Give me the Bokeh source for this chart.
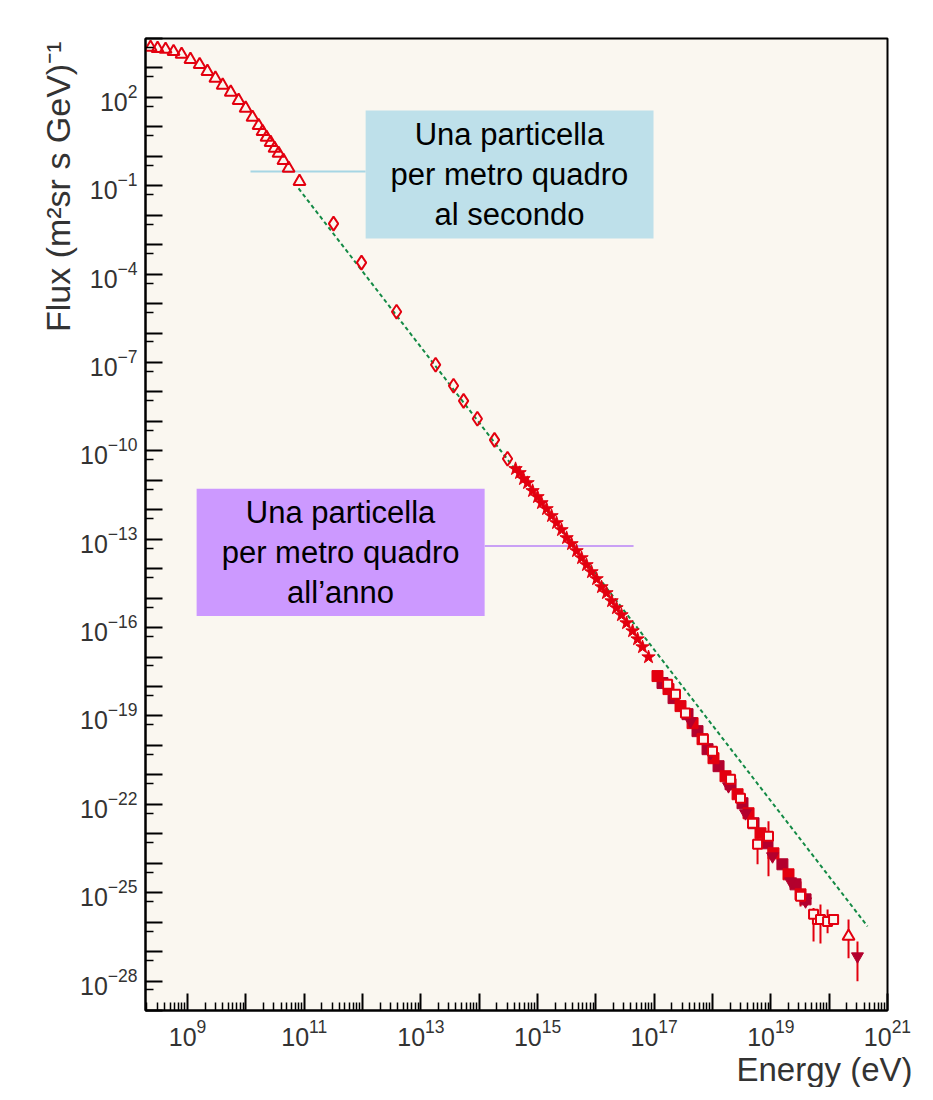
import numpy as np
from bokeh.plotting import figure
from bokeh.models import FixedTicker, BoxAnnotation, Label, Range1d, Title
from bokeh.embed import file_html
from bokeh.resources import INLINE

# ---------------- data (energy in eV, flux in m^-2 sr^-1 s^-1 GeV^-1) ----------------
tri_E = [2.32e8, 3.06e8, 4.2e8, 5.75e8, 7.9e8, 1.12e9, 1.61e9, 2.19e9, 3.0e9, 4.0e9,
         5.5e9, 7.5e9, 9.9e9, 1.3e10, 1.65e10, 1.93e10, 2.26e10, 2.65e10, 3.1e10,
         3.63e10, 4.4e10, 5.4e10, 8.3e10]
tri_F = [5.0e3, 4.6e3, 4.3e3, 3.6e3, 2.9e3, 1.95e3, 1.3e3, 7.6e2, 4.5e2, 2.6e2,
         1.5e2, 79, 43, 21, 11, 6.9, 4.4, 2.95, 1.86,
         1.26, 0.72, 0.39, 0.14]

dia_E = [3.18e11, 9.6e11, 3.83e12, 1.79e13, 3.63e13, 5.4e13, 9.3e13, 1.83e14, 3.06e14]
dia_F = [5.2e-3, 2.47e-4, 5.3e-6, 8.4e-8, 1.63e-8, 5.0e-9, 1.23e-9, 2.37e-10, 5.4e-11]

star_E = [4.20e14, 4.92e14, 5.75e14, 6.75e14, 8.22e14, 1.0e15, 1.17e15, 1.43e15, 1.74e15,
          2.12e15, 2.58e15, 3.15e15, 3.83e15, 4.67e15, 5.69e15, 6.92e15, 8.43e15, 1.03e16,
          1.25e16, 1.52e16, 1.86e16, 2.26e16, 2.75e16, 3.36e16, 4.26e16, 5.19e16, 6.31e16, 8.0e16]
star_F = [2.45e-11, 1.79e-11, 1.12e-11, 8.18e-12, 4.39e-12, 2.74e-12, 1.71e-12, 1.07e-12, 6.19e-13,
          3.58e-13, 2.07e-13, 1.11e-13, 6.92e-14, 4.0e-14, 2.31e-14, 1.34e-14, 7.73e-15, 4.48e-15,
          2.39e-15, 1.50e-15, 8.0e-16, 4.62e-16, 2.67e-16, 1.43e-16, 7.64e-17, 4.08e-17, 2.19e-17, 1.0e-17]

sqf_E = [1.14e17, 1.76e17, 2.83e17, 4.55e17, 6.75e17, 1.04e18, 1.67e18, 2.69e18, 4.15e18,
         6.65e18, 1.11e19, 2.01e19, 3.23e19]
sqf_F = [2.26e-18, 8.17e-19, 2.16e-19, 5.7e-20, 1.63e-20, 3.68e-21, 9.0e-22, 2.2e-22, 4.98e-23,
         1.04e-23, 2.17e-24, 4.2e-25, 8.77e-26]

dsq_E = [1.39e17, 2.15e17, 3.73e17, 5.53e17, 8.22e17, 1.27e18, 2.04e18, 3.27e18, 5.05e18,
         8.77e18, 1.58e19, 2.65e19, 3.94e19]
dsq_F = [1.31e-18, 4.04e-19, 1.15e-19, 3.05e-20, 7.45e-21, 1.97e-21, 4.81e-22, 1.09e-22, 2.28e-23,
         4.75e-24, 9.2e-25, 1.92e-25, 5.94e-26]

sqo_E = [1.70e17, 2.32e17, 3.44e17, 7.0e17, 1.0e18, 2.04e18, 3.02e18, 4.85e18, 5.92e18,
         9.12e18, 3.23e19, 6.3e19, 1.19e20]
sqo_F = [1.20e-18, 5.5e-19, 1.25e-19, 1.63e-20, 6.37e-21, 7.1e-22, 1.61e-22, 2.28e-23, 4.4e-24,
         8.2e-24, 7.5e-26, 1.24e-26, 1.24e-26]

dtri_E = [4.2e17, 9.25e17, 1.88e18, 3.68e18, 1.07e19, 2.18e19, 3.94e19, 3.06e20]
dtri_F = [6.6e-20, 5.5e-21, 4.12e-22, 4.98e-23, 1.72e-24, 2.43e-25, 5.08e-26, 6.9e-28]

uhe_E = [5.4e19, 7.1e19, 9.4e19, 1.19e20]
uhe_F = [1.84e-26, 1.24e-26, 1.06e-26, 1.24e-26]

otri_E = [2.15e20]
otri_F = [3.28e-27]

err_E = [5.92e18, 9.12e18, 3.23e19, 5.4e19, 7.1e19, 9.4e19, 2.15e20, 3.06e20]
err_lo = [9.2e-25, 3.6e-25, 3.4e-26, 2.2e-27, 1.9e-27, 4.2e-27, 5.9e-28, 9.8e-29]
err_hi = [7.0e-24, 2.66e-23, 2.4e-25, 3.0e-26, 4.0e-26, 2.7e-26, 1.24e-26, 2.2e-27]

fit_E = [8.0e10, 4.55e20]
fit_F = [8.1e-2, 7.2e-27]

x_label_exps = [9, 11, 13, 15, 17, 19, 21]
y_label_exps = [2, -1, -4, -7, -10, -13, -16, -19, -22, -25, -28]

# ---------------- styles / annotation placement ----------------
RED = "#e3000f"
DARK = "#b3002d"
FONT = "Liberation Sans"

p = figure(frame_width=742, frame_height=972, x_axis_type="log", y_axis_type="log",
           x_range=Range1d(1.9e8, 1.001e21), y_range=Range1d(1e-29, 1.001e4),
           output_backend="svg", toolbar_location=None,
           min_border_left=145, min_border_right=38, min_border_top=38, min_border_bottom=60,
           background_fill_color="#faf7f0", border_fill_color="white")
p.grid.visible = False
p.outline_line_color = "black"
p.outline_line_width = 2

x_major = [float(f"1e{k}") for k in range(9, 22)]
x_minor = [float(f"{m}e{k}") for k in range(8, 21) for m in range(2, 10) if float(f"{m}e{k}") >= 1.9e8]
y_major = [float(f"1e{k}") for k in range(-29, 5)]
y_minor = [float(f"5e{k}") for k in range(-29, 4)]

p.xaxis.ticker = FixedTicker(ticks=x_major, minor_ticks=x_minor)
p.yaxis.ticker = FixedTicker(ticks=y_major, minor_ticks=y_minor)
p.xaxis.major_label_overrides = {float(f"1e{k}"): "" for k in range(9, 22) if k not in x_label_exps}
p.yaxis.major_label_overrides = {float(f"1e{k}"): "" for k in range(-29, 5) if k not in y_label_exps}

for ax in (p.xaxis[0], p.yaxis[0]):
    ax.axis_line_width = 2
    ax.axis_line_color = "black"
    ax.major_tick_line_width = 2
    ax.minor_tick_line_width = 1.5
    ax.major_tick_in = 17
    ax.major_tick_out = 0
    ax.minor_tick_in = 8
    ax.minor_tick_out = 0
    ax.major_label_text_font = FONT
    ax.major_label_text_font_size = "25px"
    ax.major_label_text_color = "#333333"
    ax.major_label_standoff = 8

# axis titles (as side titles so they may sit outside the frame)
p.add_layout(Title(text="Energy (eV)", align="right", offset=-25, standoff=0,
                   text_font=FONT, text_font_size="33px", text_font_style="normal",
                   text_color="#333333"), "below")
p.add_layout(Title(text="Flux (m\u00b2sr s GeV)\u207b\u00b9", align="right", offset=3, standoff=2,
                   text_font=FONT, text_font_size="34px", text_font_style="normal",
                   text_color="#333333"), "left")

# annotation boxes
blue_box = BoxAnnotation(left=1.13e12, right=9.75e16, top=36.1, bottom=1.61e-3,
                         fill_color="#bee0ea", fill_alpha=1.0, line_color=None)
purple_box = BoxAnnotation(left=1.43e9, right=1.24e14, top=5.13e-12, bottom=2.47e-16,
                           fill_color="#cc99ff", fill_alpha=1.0, line_color=None)
p.add_layout(blue_box)
p.add_layout(purple_box)
p.segment(x0=[1.2e10], x1=[1.13e12], y0=[0.305], y1=[0.305], line_color="#a6d6e4", line_width=2)
p.segment(x0=[1.24e14], x1=[4.43e16], y0=[5.9e-14], y1=[5.9e-14], line_color="#c9a0f5", line_width=2)

# fit line
p.line(fit_E, fit_F, line_color="#138a45", line_width=2, line_dash="4 3")

# error bars
p.segment(x0=err_E, x1=err_E, y0=err_lo, y1=err_hi, line_color=RED, line_width=2)

# data markers
p.scatter(tri_E, tri_F, marker="triangle", size=12, line_color=RED, line_width=2, fill_color=None)
p.scatter(dia_E, dia_F, marker="diamond", size=14, line_color=RED, line_width=2, fill_color=None)
p.scatter(star_E, star_F, marker="star", size=14, line_color=RED, line_width=1, fill_color=RED)
p.scatter(dsq_E, dsq_F, marker="square", size=11, line_color=DARK, fill_color=DARK)
p.scatter(sqf_E, sqf_F, marker="square", size=11, line_color=RED, fill_color=RED)
p.scatter(dtri_E, dtri_F, marker="inverted_triangle", size=12, line_color=DARK, fill_color=DARK)
p.scatter(sqo_E, sqo_F, marker="square", size=9, line_color=RED, line_width=2, fill_color="#faf7f0")
p.scatter(uhe_E, uhe_F, marker="square", size=9, line_color=RED, line_width=2, fill_color="#faf7f0")
p.scatter(otri_E, otri_F, marker="triangle", size=12, line_color=RED, line_width=2, fill_color="#faf7f0")

# box texts
p.add_layout(Label(x=3.3e14, y=0.241, text="Una particella\nper metro quadro\nal secondo",
                   text_align="center", text_baseline="middle", text_font=FONT,
                   text_font_size="31px", text_color="black", text_line_height=1.15))
p.add_layout(Label(x=4.2e11, y=3.56e-14, text="Una particella\nper metro quadro\nall\u2019anno",
                   text_align="center", text_baseline="middle", text_font=FONT,
                   text_font_size="31px", text_color="black", text_line_height=1.15))

open("out.html", "w").write(file_html(p, INLINE))
